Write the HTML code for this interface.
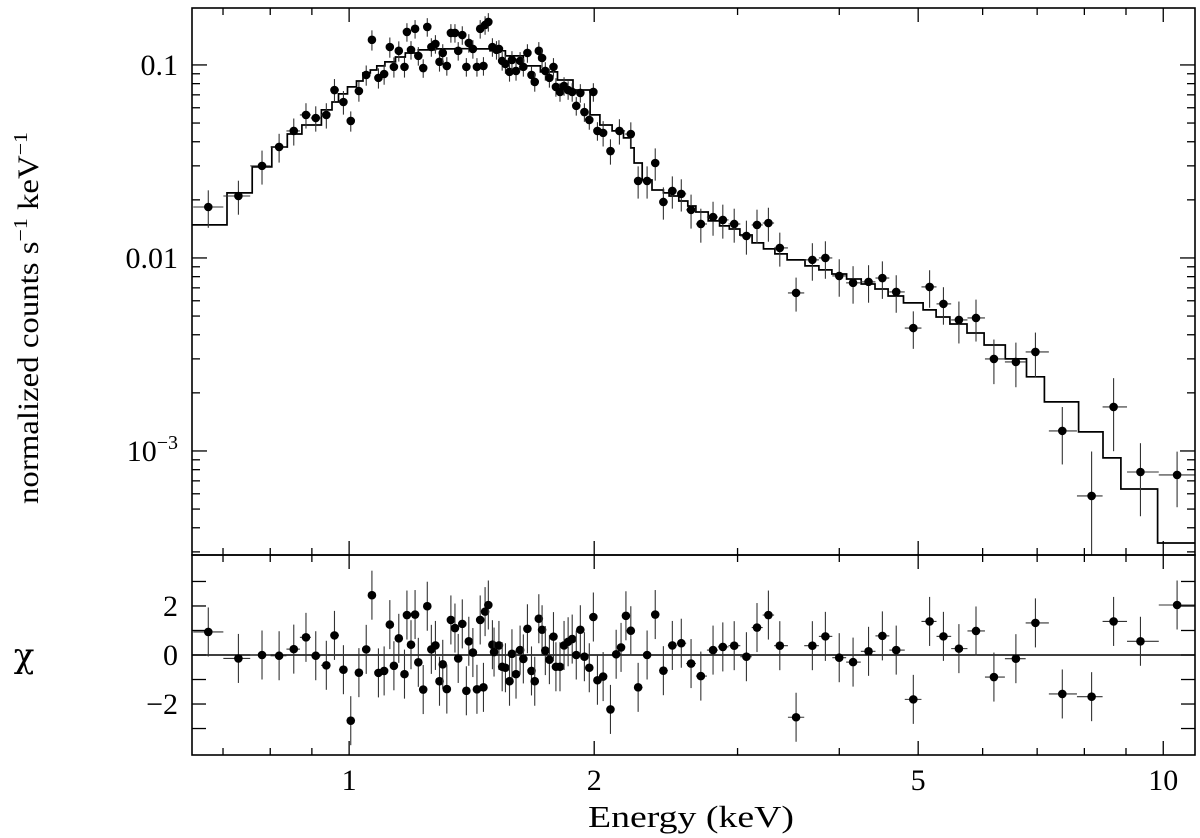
<!DOCTYPE html>
<html><head><meta charset="utf-8"><style>
html,body{margin:0;padding:0;background:#fff;}
svg{display:block;font-family:"Liberation Serif",serif;}
</style></head><body>
<svg id="chart" width="1200" height="838" viewBox="0 0 1200 838" xmlns="http://www.w3.org/2000/svg">
<text transform="translate(38,318) rotate(-90)" text-anchor="middle" font-size="30" textLength="372" lengthAdjust="spacingAndGlyphs">normalized counts s<tspan font-size="20" dy="-11">−1</tspan><tspan dy="11"> keV</tspan><tspan font-size="20" dy="-11">−1</tspan></text>
<text x="24" y="667" text-anchor="middle" font-size="34" font-family="DejaVu Serif, serif">χ</text>
<text x="691" y="827" text-anchor="middle" font-size="31" textLength="206" lengthAdjust="spacingAndGlyphs">Energy (keV)</text>
</svg>
<script>
// log10(Energy/keV) for spectrum points
const energyLogTop=[-0.173,-0.136,-0.107,-0.086,-0.068,-0.053,-0.041,-0.028,-0.018,-0.007,
0.002,0.012,0.021,0.028,0.036,0.043,0.050,0.055,0.061,0.068,
0.071,0.076,0.081,0.085,0.091,0.096,0.101,0.106,0.111,0.115,
0.120,0.125,0.130,0.134,0.139,0.144,0.147,0.152,0.157,0.161,
0.165,0.167,0.171,0.176,0.181,0.184,0.188,0.192,0.197,0.200,
0.205,0.210,0.214,0.219,0.224,0.228,0.233,0.237,0.241,0.246,
0.251,0.254,0.259,0.264,0.269,0.274,0.279,0.284,0.289,0.295,
0.300,0.305,
0.312,0.321,0.332,0.346,0.355,0.366,0.376,0.386,0.397,0.408,
0.420,0.432,0.447,0.459,0.473,0.488,0.501,0.515,0.529,0.549,
0.569,0.585,0.602,0.619,0.638,0.655,0.672,0.693,0.713,0.730,
0.749,0.770,0.792,0.819,0.843,0.876,0.912,0.939,0.972,1.017];
// log10(normalized counts)
const countsLog=[-1.736,-1.679,-1.523,-1.425,-1.342,-1.259,-1.275,-1.259,-1.130,-1.192,
-1.290,-1.135,-1.052,-0.870,-1.067,-1.047,-0.907,-1.010,-0.927,-1.010,
-0.829,-0.922,-0.813,-0.953,-1.016,-0.803,-0.907,-0.891,-0.984,-0.938,
-1.005,-0.834,-0.834,-0.927,-0.845,-1.010,-0.886,-0.917,-1.010,-0.813,
-1.005,-0.793,-0.777,-0.907,-0.922,-0.917,-0.979,-0.995,-1.036,-0.974,
-1.031,-0.979,-1.010,-0.938,-1.052,-1.088,-0.927,-0.964,-1.031,-1.067,
-1.010,-1.114,-1.140,-1.109,-1.130,-1.140,-1.212,-1.145,-1.244,-1.285,
-1.140,-1.342,
-1.352,-1.446,-1.342,-1.358,-1.601,-1.601,-1.508,-1.710,-1.653,-1.668,
-1.751,-1.824,-1.788,-1.803,-1.824,-1.886,-1.829,-1.819,-1.948,-2.181,
-2.010,-2.000,-2.093,-2.129,-2.124,-2.104,-2.176,-2.363,-2.150,-2.238,
-2.321,-2.311,-2.523,-2.539,-2.487,-2.896,-3.233,-2.772,-3.109,-3.124];
// fractional (linear) 1-sigma errors on counts
const countsFracErr=[0.22,0.20,0.20,0.17,0.16,0.15,0.15,0.15,0.14,0.14,
0.12,0.12,0.12,0.12,0.12,0.12,0.12,0.12,0.12,0.12,
0.11,0.11,0.11,0.11,0.11,0.11,0.11,0.11,0.11,0.11,
0.11,0.11,0.11,0.11,0.11,0.11,0.11,0.11,0.11,0.11,
0.11,0.11,0.11,0.11,0.11,0.11,0.11,0.11,0.11,0.11,
0.11,0.11,0.11,0.11,0.11,0.11,0.11,0.11,0.11,0.11,
0.11,0.11,0.11,0.11,0.11,0.11,0.11,0.11,0.11,0.11,
0.11,0.11,
0.15,0.15,0.15,0.15,0.19,0.19,0.19,0.19,0.19,0.19,
0.20,0.20,0.20,0.20,0.20,0.20,0.20,0.20,0.20,0.20,
0.22,0.22,0.22,0.22,0.22,0.22,0.22,0.22,0.22,0.22,
0.245,0.245,0.26,0.26,0.26,0.33,0.70,0.41,0.41,0.32];
// residual points
const energyLogChi=[-0.173,-0.136,-0.107,-0.086,-0.068,-0.053,-0.041,-0.028,-0.018,-0.007,
0.002,0.012,0.021,0.028,0.036,0.043,0.050,0.055,0.061,0.068,
0.071,0.076,0.081,0.085,0.091,0.096,0.101,0.106,0.111,0.115,
0.120,0.125,0.130,0.134,0.139,0.144,0.147,0.152,0.157,0.161,
0.165,0.167,0.171,0.176,0.178,0.184,0.188,0.192,0.197,0.200,
0.205,0.210,0.214,0.219,0.224,0.228,0.233,0.237,0.241,0.246,
0.251,0.254,0.259,0.264,0.269,0.274,0.279,0.284,0.289,0.295,
0.300,0.305,
0.312,0.321,0.328,0.334,0.340,0.346,0.355,0.366,0.376,0.386,
0.397,0.408,0.420,0.432,0.447,0.459,0.473,0.488,0.501,0.515,
0.529,0.549,0.569,0.585,0.602,0.619,0.638,0.655,0.672,0.693,
0.713,0.730,0.749,0.770,0.792,0.819,0.843,0.876,0.912,0.939,0.972,1.017];
const chiValues=[0.94,-0.14,0,-0.03,0.24,0.72,-0.03,-0.42,0.80,-0.6,
-2.68,-0.72,0.23,2.44,-0.73,-0.65,1.24,-0.44,0.68,-0.78,
1.63,0.42,1.65,-0.3,-1.41,1.99,0.23,0.39,-1.07,-0.38,
-1.39,1.43,1.1,-0.14,1.27,-1.46,0.56,0.1,-1.4,1.43,
-1.32,1.77,2.04,0.42,0.12,0.39,-0.48,-0.52,-1.07,0.05,
-0.78,0.2,-0.16,1.07,-0.65,-1.07,1.48,1.03,0.18,-0.19,
0.75,-0.48,-0.48,0.39,0.54,0.65,0,1.03,-0.07,-0.52,
1.55,-1.03,
-0.88,-2.22,0.03,0.31,1.6,0.99,-1.32,0,1.65,-0.64,
0.39,0.48,-0.35,-0.86,0.2,0.33,0.38,-0.07,1.12,1.63,
0.38,-2.54,0.38,0.76,-0.11,-0.29,0.15,0.78,0.2,-1.81,
1.37,0.76,0.26,0.98,-0.9,-0.15,1.31,-1.59,-1.7,1.37,0.56,2.04];
// model step histogram: left edges (log10 keV) and levels (log10 counts)
const modelEdgesLog=[-0.193,-0.150,-0.119,-0.095,-0.076,-0.058,-0.034,-0.021,-0.013,-0.002,0.009,0.017,0.026,0.034,
0.044,0.057,0.069,0.085,0.106,0.130,0.155,0.173,0.192,0.214,0.235,0.256,0.275,0.296,0.308,0.323,0.337,0.346,0.350,0.360,0.372,
0.386,0.393,0.405,0.416,0.426,0.441,0.455,0.467,0.480,0.495,0.509,0.523,0.538,0.560,0.577,0.593,0.611,0.629,0.646,0.662,0.681,
0.705,0.721,0.738,0.759,0.780,0.806,0.832,0.854,0.896,0.926,0.948,0.993];
const modelLog=[-1.829,-1.663,-1.528,-1.425,-1.358,-1.311,-1.233,-1.192,-1.150,-1.114,-1.083,-1.041,-1.026,-1.005,
-0.984,-0.959,-0.938,-0.922,-0.917,-0.916,-0.917,-0.927,-0.953,-1.005,-1.036,-1.078,-1.130,-1.259,-1.311,-1.342,-1.378,-1.430,-1.508,-1.596,-1.648,
-1.663,-1.679,-1.705,-1.731,-1.762,-1.808,-1.834,-1.850,-1.881,-1.922,-1.953,-1.979,-2.010,-2.041,-2.062,-2.083,-2.109,-2.135,-2.161,-2.197,-2.233,
-2.269,-2.306,-2.342,-2.389,-2.451,-2.523,-2.616,-2.746,-2.901,-3.036,-3.197,-3.477];
const xMajorTicks=[1,2,5,10];
const xMajorLabels=["1","2","5","10"];
const xMinorTicks=[0.7,0.8,0.9,3,4,6,7,8,9];
const yMajorTicks=[0.1,0.01,0.001];
const chiTicks=[-3,-2,-1,0,1,2,3];
const chiLabels=[-2,0,2];

const NS="http://www.w3.org/2000/svg";
const svg=document.getElementById('chart');
const L=192,R=1195,T=8,MID=555,B=755;
const xMin=-0.193,xMax=1.039,yTopMax=-0.705,yTopMin=-3.539,chiMax=4.08,chiMin=-4.08;
const sx=le=>L+(le-xMin)/(xMax-xMin)*(R-L);
const syT=lc=>T+(yTopMax-lc)/(yTopMax-yTopMin)*(MID-T);
const syC=c=>MID+(chiMax-c)/(chiMax-chiMin)*(B-MID);
function mk(tag,attrs,parent){const e=document.createElementNS(NS,tag);for(const k in attrs)e.setAttribute(k,attrs[k]);(parent||svg).appendChild(e);return e;}
function line(x1,y1,x2,y2,stroke,w,parent){return mk('line',{x1,y1,x2,y2,stroke,'stroke-width':w},parent);}

const clipT=mk('clipPath',{id:'ct'});mk('rect',{x:L,y:T,width:R-L,height:MID-T},clipT);
const clipB=mk('clipPath',{id:'cb'});mk('rect',{x:L,y:MID,width:R-L,height:B-MID},clipB);

const FS=30;
const ticks=mk('g',{});


function xTick(v,len){const x=sx(Math.log10(v));
 line(x,T,x,T+len,'#000',1.3,ticks);line(x,MID,x,MID-len,'#000',1.3,ticks);
 line(x,MID,x,MID+len,'#000',1.3,ticks);line(x,B,x,B-len,'#000',1.3,ticks);}
xMajorTicks.forEach(v=>xTick(v,14));
xMinorTicks.forEach(v=>xTick(v,7));
xMajorTicks.forEach((v,i)=>{const t=mk('text',{x:sx(Math.log10(v)),y:790,'text-anchor':'middle','font-size':FS});t.textContent=xMajorLabels[i];
 });
for(let d=-4;d<=-1;d++){for(let m=1;m<=9;m++){const lc=d+Math.log10(m);if(lc<yTopMin||lc>yTopMax)continue;const y=syT(lc);const len=m===1?15:8;
 line(L,y,L+len,y,'#000',1.3,ticks);line(R,y,R-len,y,'#000',1.3,ticks);}}
yMajorTicks.forEach(v=>{const y=syT(Math.log10(v));let t;
 if(v===0.001){t=mk('text',{x:178,y:y+10,'text-anchor':'end','font-size':FS});t.innerHTML='10<tspan font-size="20" dy="-12">−3</tspan>';}
 else{t=mk('text',{x:178,y:y+10,'text-anchor':'end','font-size':FS});t.textContent=String(v);}
 });
chiTicks.forEach(c=>{const y=syC(c);line(L,y,L+14,y,'#000',1.3,ticks);line(R,y,R-14,y,'#000',1.3,ticks);});
chiLabels.forEach(c=>{const t=mk('text',{x:178,y:syC(c)+10,'text-anchor':'end','font-size':FS});t.textContent=c<0?'−'+Math.abs(c):String(c);
 });

let d='';
modelEdgesLog.forEach((e,i)=>{const x1=sx(e),x2=sx(i+1<modelEdgesLog.length?modelEdgesLog[i+1]:xMax),y=syT(modelLog[i]);
 d+=(i===0?'M':'L')+x1.toFixed(1)+','+y.toFixed(1)+'L'+x2.toFixed(1)+','+y.toFixed(1);});
const model=mk('path',{d,fill:'none',stroke:'#000','stroke-width':1.7,'clip-path':'url(#ct)'});


const zero=line(L,syC(0),R,syC(0),'#000',1.6);



function halfW(arr,i){const lo=i>0?(arr[i]+arr[i-1])/2:arr[i]-(arr[i+1]-arr[i])/2;const hi=i<arr.length-1?(arr[i]+arr[i+1])/2:arr[i]+(arr[i]-arr[i-1])/2;return [lo,hi];}
const gT=mk('g',{'clip-path':'url(#ct)'});


energyLogTop.forEach((e,i)=>{const x=sx(e),c=Math.pow(10,countsLog[i]),f=countsFracErr[i];
 const y=syT(countsLog[i]);const yu=syT(Math.log10(c*(1+f)));const yd=f>=0.999?MID+5:syT(Math.log10(c*(1-f)));
 const [lo,hi]=halfW(energyLogTop,i);
 line(x,yu,x,yd,'#333',1.1,gT);line(sx(lo),y,sx(hi),y,'#333',1.1,gT);
 const p=mk('circle',{cx:x,cy:y,r:4.3,fill:'#000'},gT);
 
 });
const gB=mk('g',{'clip-path':'url(#cb)'});


energyLogChi.forEach((e,i)=>{const x=sx(e),y=syC(chiValues[i]);const [lo,hi]=halfW(energyLogChi,i);
 line(x,syC(chiValues[i]+1),x,syC(chiValues[i]-1),'#333',1.1,gB);line(sx(lo),y,sx(hi),y,'#333',1.1,gB);
 const p=mk('circle',{cx:x,cy:y,r:4.3,fill:'#000'},gB);
 
 });

const f1=mk('rect',{x:L,y:T,width:R-L,height:MID-T,fill:'none',stroke:'#000','stroke-width':1.6});


const f2=mk('rect',{x:L,y:MID,width:R-L,height:B-MID,fill:'none',stroke:'#000','stroke-width':1.6});


</script>
</body></html>
